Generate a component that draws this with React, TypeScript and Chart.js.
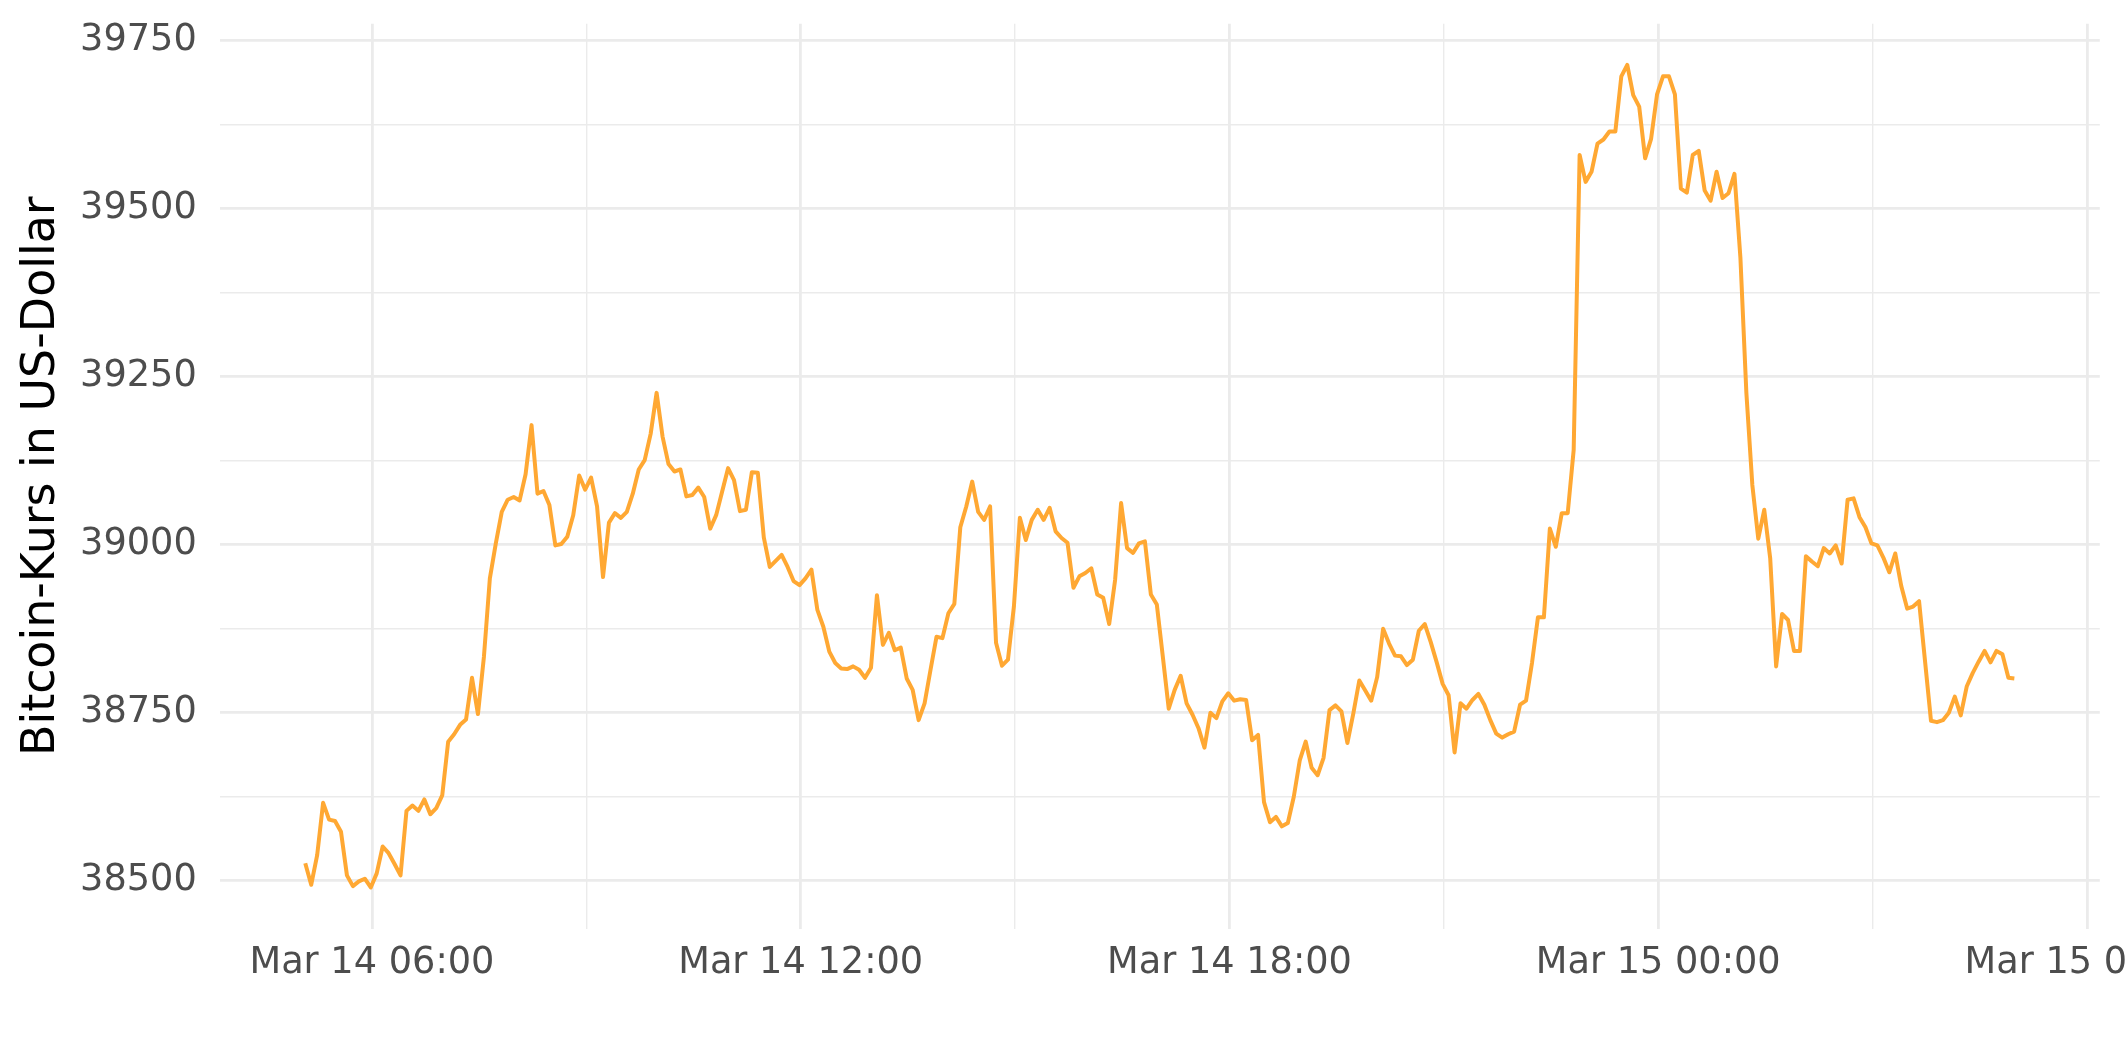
import React, { useEffect, useRef } from "react";
import { Chart, registerables } from "chart.js";

Chart.register(...registerables);

// Time axis: minutes after Mar 14 00:00, one reading every 5 minutes
const START_MINUTE = 304; // Mar 14 05:04
const STEP_MINUTES = 5;

// Bitcoin price in US-Dollar (5-minute readings)
const prices: number[] = [
  38526, 38494, 38538, 38616, 38591, 38589, 38573, 38508, 38492, 38499, 38503, 38490,
  38511, 38551, 38541, 38525, 38508, 38604, 38612, 38604, 38621, 38599, 38608, 38627,
  38707, 38718, 38732, 38740, 38802, 38748, 38833, 38950, 39002, 39049, 39067, 39071,
  39066, 39105, 39178, 39076, 39080, 39059, 38999, 39001, 39012, 39044, 39103, 39082,
  39100, 39057, 38952, 39033, 39047, 39040, 39049, 39076, 39112, 39126, 39165, 39226,
  39161, 39120, 39109, 39112, 39072, 39074, 39085, 39071, 39024, 39044, 39079, 39114,
  39096, 39050, 39052, 39108, 39107, 39011, 38967, 38976, 38985, 38967, 38946, 38940,
  38950, 38963, 38903, 38878, 38841, 38824, 38816, 38815, 38819, 38814, 38802, 38817,
  38925, 38851, 38869, 38843, 38847, 38801, 38784, 38739, 38764, 38814, 38863, 38861,
  38898, 38912, 39026, 39057, 39094, 39049, 39037, 39057, 38854, 38820, 38829, 38908,
  39040, 39007, 39037, 39052, 39037, 39055, 39020, 39010, 39003, 38936, 38953, 38958,
  38965, 38926, 38921, 38882, 38948, 39062, 38995, 38988, 39002, 39005, 38926, 38911,
  38834, 38756, 38784, 38805, 38764, 38747, 38727, 38698, 38750, 38742, 38767, 38779,
  38768, 38770, 38769, 38709, 38717, 38617, 38587, 38595, 38581, 38586, 38625, 38679,
  38707, 38668, 38657, 38683, 38754, 38761, 38752, 38705, 38749, 38798, 38783, 38768,
  38803, 38875, 38853, 38835, 38834, 38821, 38829, 38872, 38882, 38855, 38825, 38793,
  38776, 38691, 38764, 38756, 38769, 38778, 38762, 38739, 38719, 38713, 38718, 38722,
  38762, 38768, 38824, 38892, 38892, 39024, 38997, 39047, 39047, 39141, 39580, 39540,
  39555, 39597, 39603, 39615, 39615, 39697, 39714, 39669, 39652, 39575, 39604, 39670,
  39697, 39697, 39670, 39530, 39524, 39580, 39586, 39527, 39512, 39555, 39516, 39523,
  39552, 39427, 39226, 39089, 39009, 39052, 38980, 38819, 38897, 38888, 38842, 38842,
  38983, 38975, 38968, 38995, 38987, 38999, 38972, 39067, 39069, 39041, 39026, 39002,
  38999, 38981, 38959, 38987, 38939, 38905, 38908, 38916, 38827, 38738, 38736, 38739,
  38750, 38774, 38746, 38789, 38809, 38826, 38842, 38825, 38842, 38837, 38802, 38801,
];

const xMajorTicks = [360, 720, 1080, 1440, 1800];
const xMajorLabels = ["Mar 14 06:00", "Mar 14 12:00", "Mar 14 18:00", "Mar 15 00:00", "Mar 15 06:00"];
const xMinorTicks = [540, 900, 1260, 1620];

const yMajorTicks = [38500, 38750, 39000, 39250, 39500, 39750];
const yMinorTicks = [38625, 38875, 39125, 39375, 39625];

const yTitle = "Bitcoin-Kurs in US-Dollar";

const W = 2125;
const H = 1062;
const FONT = "'DejaVu Sans', 'Liberation Sans', sans-serif";

export default function App() {
  const ref = useRef<HTMLCanvasElement | null>(null);

  useEffect(() => {
    if (!ref.current) return;
    const points = prices.map((p, i) => ({ x: START_MINUTE + i * STEP_MINUTES, y: p }));
    const xs = points.map((p) => p.x);
    const xLo = Math.min(...xs);
    const xHi = Math.max(...xs);
    const yLo = Math.min(...prices);
    const yHi = Math.max(...prices);
    const xPad = (xHi - xLo) * 0.05;
    const yPad = (yHi - yLo) * 0.05;

    const majorX = new Set(xMajorTicks);
    const majorY = new Set(yMajorTicks);

    const chart = new Chart(ref.current, {
      type: "line",
      data: {
        datasets: [
          {
            data: points,
            borderColor: "#FFA833",
            borderWidth: 4,
            pointRadius: 0,
            tension: 0,
            fill: false,
            borderJoinStyle: "round",
            borderCapStyle: "butt",
          },
        ],
      },
      options: {
        responsive: false,
        devicePixelRatio: 1,
        animation: false,
        events: [],
        layout: { padding: { top: 23.8, right: 25.2, bottom: 0, left: 0 } },
        plugins: { legend: { display: false }, tooltip: { enabled: false }, title: { display: false } },
        scales: {
          x: {
            type: "linear",
            min: xLo - xPad,
            max: xHi + xPad,
            border: { display: false },
            afterBuildTicks: (scale: any) => {
              scale.ticks = [...xMajorTicks, ...xMinorTicks].sort((a, b) => a - b).map((v) => ({ value: v }));
            },
            afterFit: (scale: any) => {
              scale.height = H - 928.6;
              scale.paddingLeft = 0;
              scale.paddingRight = 0;
            },
            grid: {
              drawTicks: false,
              color: "#EBEBEB",
              lineWidth: (ctx: any) => (ctx.tick && majorX.has(ctx.tick.value) ? 2.8 : 1.4),
            },
            ticks: {
              autoSkip: false,
              maxRotation: 0,
              minRotation: 0,
              padding: 13,
              color: "#4D4D4D",
              font: { family: FONT, size: 36.7 },
              callback: (v: any) => {
                const idx = xMajorTicks.indexOf(Number(v));
                return idx >= 0 ? xMajorLabels[idx] : "";
              },
            },
          },
          y: {
            type: "linear",
            min: yLo - yPad,
            max: yHi + yPad,
            border: { display: false },
            afterBuildTicks: (scale: any) => {
              scale.ticks = [...yMajorTicks, ...yMinorTicks].sort((a, b) => a - b).map((v) => ({ value: v }));
            },
            afterFit: (scale: any) => {
              scale.width = 219.8;
              scale.paddingTop = 0;
              scale.paddingBottom = 0;
            },
            grid: {
              drawTicks: false,
              color: "#EBEBEB",
              lineWidth: (ctx: any) => (ctx.tick && majorY.has(ctx.tick.value) ? 2.8 : 1.4),
            },
            ticks: {
              autoSkip: false,
              padding: 23,
              color: "#4D4D4D",
              font: { family: FONT, size: 36.7 },
              callback: (v: any) => (majorY.has(Number(v)) ? String(v) : ""),
            },
            title: {
              display: true,
              text: yTitle,
              color: "#000000",
              font: { family: FONT, size: 45.9 },
              padding: { top: 15, bottom: 0 },
            },
          },
        },
      },
    } as any);
    return () => chart.destroy();
  }, []);

  return (
    <div style={{ position: "fixed", left: 0, top: 0, width: W, height: H, background: "#ffffff" }}>
      <canvas ref={ref} width={W} height={H} style={{ width: W, height: H, display: "block" }} />
    </div>
  );
}
